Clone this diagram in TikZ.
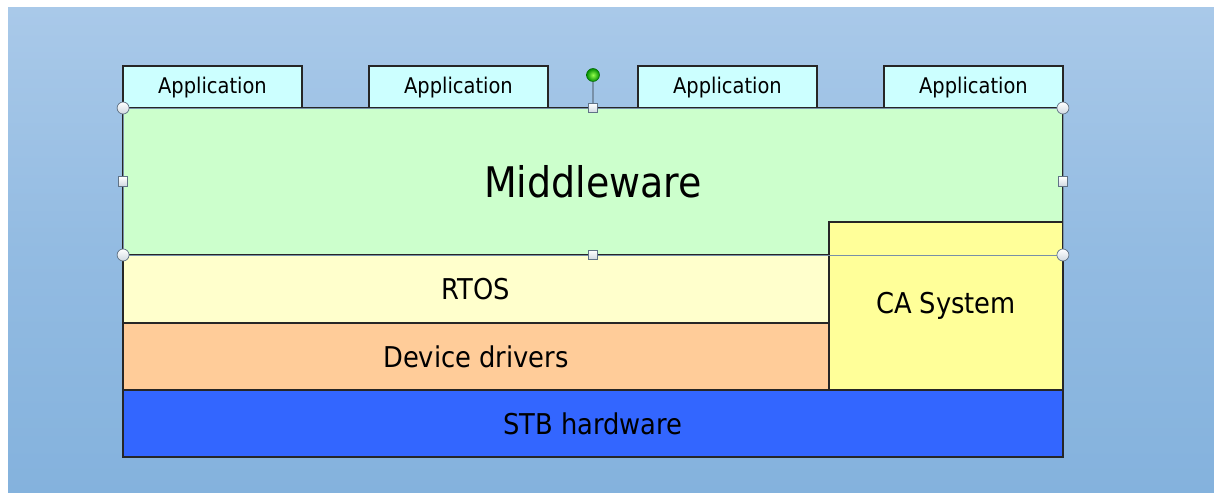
\documentclass[tikz,border=0pt]{standalone}
\usepackage{fontspec}
\setmainfont{DejaVu Sans Condensed}
\usepackage{xcolor}
\usepackage{tikz}
\definecolor{bgtop}{HTML}{A9C9E9}
\definecolor{bgbot}{HTML}{84B2DD}
\definecolor{appcol}{HTML}{CCFFFF}
\definecolor{mwcol}{HTML}{CCFFCC}
\definecolor{rtoscol}{HTML}{FFFFCC}
\definecolor{drvcol}{HTML}{FFCC99}
\definecolor{cacol}{HTML}{FFFF99}
\definecolor{stbcol}{HTML}{3366FF}
\definecolor{selcol}{HTML}{7890A8}
\tikzset{layer/.style={draw=black!85,line width=0.75pt,align=center,inner sep=0pt,outer sep=0pt,font=\fontsize{16.3}{19}\selectfont},
app/.style={layer,fill=appcol,minimum width=3.58cm,minimum height=0.86cm,font=\fontsize{12.3}{14}\selectfont},
selline/.style={draw=selcol,line width=0.45pt},
rhandle/.style={circle,draw=selcol!80!black,inner sep=0pt,minimum size=0.24cm,top color=white,bottom color=selcol!35,line width=0.4pt},
shandle/.style={rectangle,draw=selcol!80!black,inner sep=0pt,minimum size=0.19cm,top color=white,bottom color=selcol!35,line width=0.4pt},
rothandle/.style={circle,draw=green!40!black,inner sep=0pt,minimum size=0.26cm,inner color=green!60!yellow!70,outer color=green!55!black,line width=0.3pt}}

\begin{document}
\begin{tikzpicture}[x=0.02cm,y=-0.02cm]
\useasboundingbox (0,0) rectangle (1214,493);
\shade[top color=bgtop,bottom color=bgbot,middle color=bgbot!60!bgtop] (8,8) rectangle (1214,493);
% applications
\foreach \i/\cx in {1/212.5,2/458.5,3/727.5,4/973.5}
  \node[app] (app\i) at (\cx,87.5) {Application};
% layers
\node[layer,fill=mwcol,minimum width=18.8cm,minimum height=2.94cm,font=\fontsize{24}{28}\selectfont] (mw) at (593,181.5) {Middleware};
\node[layer,fill=rtoscol,minimum width=14.12cm,minimum height=1.36cm] (rtos) at (476,289) {RTOS};
\node[layer,fill=drvcol,minimum width=14.12cm,minimum height=1.34cm] (drv) at (476,356.5) {Device drivers};
\node[layer,fill=cacol,minimum width=4.68cm,minimum height=3.36cm] (ca) at (946,306) {CA System};
\node[layer,fill=stbcol,minimum width=18.8cm,minimum height=1.34cm] (stb) at (593,423.5) {STB hardware};
% selection frame
\draw[selline] (mw.north west) rectangle (mw.south east);
\node[rothandle] (rot) at (593,75) {};
\draw[selline,line width=0.9pt] (rot) -- (mw.north);
\foreach \a in {north west,north east,south west,south east}
  \node[rhandle] at (mw.\a) {};
\foreach \a in {north,south,west,east}
  \node[shandle] at (mw.\a) {};
\end{tikzpicture}
\end{document}
